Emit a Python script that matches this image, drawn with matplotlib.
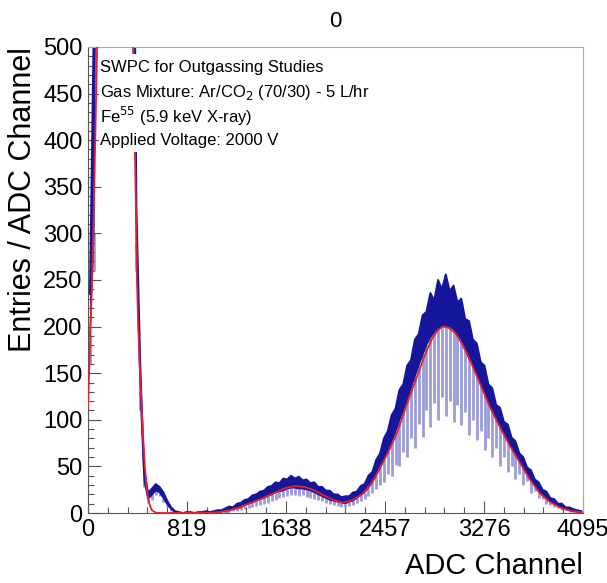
import numpy as np
import matplotlib
matplotlib.use('Agg')
import matplotlib.pyplot as plt
from matplotlib.patches import Rectangle
from matplotlib.ticker import MultipleLocator, FixedLocator

plt.rcParams['font.family'] = ['Liberation Sans', 'DejaVu Sans']

# histogram 128 bin x 32 channel
bin_edges = np.arange(0, 4097, 32)

# batas atas pita biru tua
hist_hi = [235, 520, 900, 900, 900, 900, 900, 900, 900, 900, 900, 900,
           330, 160, 45, 22, 26, 31, 28, 22, 13, 6, 2, 1,
           0, 1, 1, 0, 1, 1, 2, 1, 2, 3, 3, 5,
           7, 6, 10, 11, 14, 15, 19, 20, 23, 24, 28, 29,
           33, 32, 37, 36, 40, 37, 39, 35, 36, 32, 33, 28,
           28, 24, 24, 20, 20, 17, 18, 18, 22, 23, 29, 31,
           40, 44, 57, 64, 80, 88, 105, 112, 132, 138, 158, 164,
           186, 192, 212, 216, 236, 228, 250, 240, 256, 238, 244, 226,
           230, 208, 206, 186, 182, 162, 158, 138, 134, 116, 113, 98,
           95, 81, 77, 64, 60, 49, 46, 36, 33, 25, 23, 16,
           15, 10, 10, 6, 6, 4, 3, 2]

# batas bawah pita biru tua
hist_mid = [190, 300, 900, 900, 900, 900, 900, 900, 900, 900, 900, 900,
            290, 130, 35, 15, 19, 24, 22, 16, 9, 4, 1, 0,
            0, 0, 0, 0, 0, 0, 0, 0, 1, 1, 2, 3,
            3, 4, 5, 6, 8, 10, 11, 13, 15, 16, 18, 20,
            22, 23, 24, 26, 27, 27, 26, 26, 25, 24, 22, 20,
            18, 16, 14, 13, 12, 11, 10, 12, 13, 16, 19, 22,
            27, 33, 40, 49, 58, 67, 77, 87, 99, 110, 122, 134,
            146, 158, 169, 180, 188, 194, 198, 200, 201, 200, 197, 192,
            186, 178, 169, 159, 149, 139, 129, 119, 110, 101, 93, 86,
            78, 71, 63, 56, 49, 43, 36, 30, 24, 20, 16, 13,
            10, 8, 6, 4, 3, 2, 1, 1]

# ujung bawah garis biru muda
hist_lo = [160, 260, 700, 700, 700, 700, 700, 700, 700, 700, 700, 700,
           260, 110, 28, 11, 14, 19, 18, 12, 6, 2, 0, 0,
           0, 0, 0, 0, 0, 0, 0, 0, 0, 0, 0, 0,
           1, 2, 2, 3, 4, 5, 6, 8, 9, 10, 11, 13,
           14, 16, 17, 18, 19, 19, 18, 19, 17, 16, 15, 14,
           13, 11, 10, 9, 8, 7, 7, 8, 9, 11, 13, 15,
           18, 21, 26, 30, 33, 42, 40, 52, 50, 66, 60, 80,
           70, 95, 82, 110, 92, 118, 100, 124, 104, 120, 98, 116,
           94, 108, 84, 100, 78, 88, 68, 80, 60, 70, 50, 60,
           44, 50, 36, 42, 30, 34, 22, 24, 16, 15, 10, 9,
           6, 5, 3, 3, 1, 1, 0, 0]

# kurva fit (merah)
fit1_x = [0, 20, 41, 58, 75, 90]
fit1_y = [114, 195, 282, 389, 500, 620]
fit2_x = [360, 375, 389, 397, 405, 414, 422, 435, 447, 459, 471, 484, 496, 512, 529, 560, 600,
          1000, 1100, 1174, 1250, 1350, 1447, 1550, 1638, 1712, 1790, 1861, 1950, 2030, 2109,
          2190, 2275, 2350, 2415, 2490, 2556, 2620, 2680, 2746, 2800, 2854, 2900, 2936, 2980,
          3040, 3100, 3170, 3242, 3320, 3408, 3490, 3573, 3650, 3739, 3820, 3904, 4000, 4095]
fit2_y = [600, 480, 381, 320, 250, 205, 175, 135, 103, 75, 49, 30, 17, 8, 3, 0.5, 0,
          0.3, 1.2, 3, 6, 11, 16, 22, 27, 29, 28, 25, 19, 14, 11,
          14, 21, 33, 48, 67, 86, 110, 132, 155, 174, 189, 197, 200, 199,
          193, 180, 161, 139, 115, 92, 72, 54, 37, 21, 12, 6, 2, 0.7]

info_lines = ['SWPC for Outgassing Studies',
              'Gas Mixture: Ar/CO$_2$ (70/30) - 5 L/hr',
              'Fe$^{55}$ (5.9 keV X-ray)',
              'Applied Voltage: 2000 V']

xticks = [0, 819, 1638, 2457, 3276, 4095]

dark_blue = '#16169a'
light_blue = '#9c9cda'

fig = plt.figure(figsize=(6.07, 5.83), dpi=100)
ax = fig.add_axes([0.145, 0.12, 0.8155, 0.7995])

centers = (bin_edges[:-1] + bin_edges[1:]) / 2
ax.vlines(centers, hist_lo, hist_mid, color=light_blue, lw=2.0, zorder=1)
ax.fill_between(centers, hist_mid, hist_hi, color=dark_blue, lw=0, zorder=2)
ax.plot(centers, hist_hi, color=dark_blue, lw=1.4, zorder=2)
ax.plot(centers, hist_mid, color=dark_blue, lw=1.0, zorder=2)

ax.plot(fit1_x, fit1_y, color='#e8202e', lw=1.3, zorder=3)
ax.plot(fit2_x, fit2_y, color='#e8202e', lw=1.3, zorder=3)

ax.set_xlim(0, 4095)
ax.set_ylim(0, 500)

# kotak teks putih nutupin garis di belakangnya
ax.add_patch(Rectangle((0.022, 0.775), 0.47, 0.21, transform=ax.transAxes,
                       facecolor='white', edgecolor='none', zorder=4))
for k, line in enumerate(info_lines):
    ax.text(0.024, 0.955 - k * 0.052, line, transform=ax.transAxes,
            fontsize=12, va='center', ha='left', zorder=5)

ax.xaxis.set_major_locator(FixedLocator(xticks))
ax.xaxis.set_minor_locator(MultipleLocator(819 / 5))
ax.yaxis.set_major_locator(MultipleLocator(50))
ax.yaxis.set_minor_locator(MultipleLocator(10))
ax.tick_params(which='both', direction='in', top=False, right=False, labelsize=17, pad=4)
ax.tick_params(which='major', length=9, width=0.8, color='#555555')
ax.tick_params(which='minor', length=4.5, width=0.8, color='#555555')

for s in ['left', 'bottom']:
    ax.spines[s].set_color('#555555')
for s in ['top', 'right']:
    ax.spines[s].set_color('#aaaaaa')

ax.set_title('0', fontsize=16, pad=14)
ax.set_xlabel('ADC Channel', fontsize=21, loc='right', labelpad=8)
ax.set_ylabel('Entries / ADC Channel', fontsize=22, loc='top', labelpad=4)

fig.savefig('out.png', dpi=100)
